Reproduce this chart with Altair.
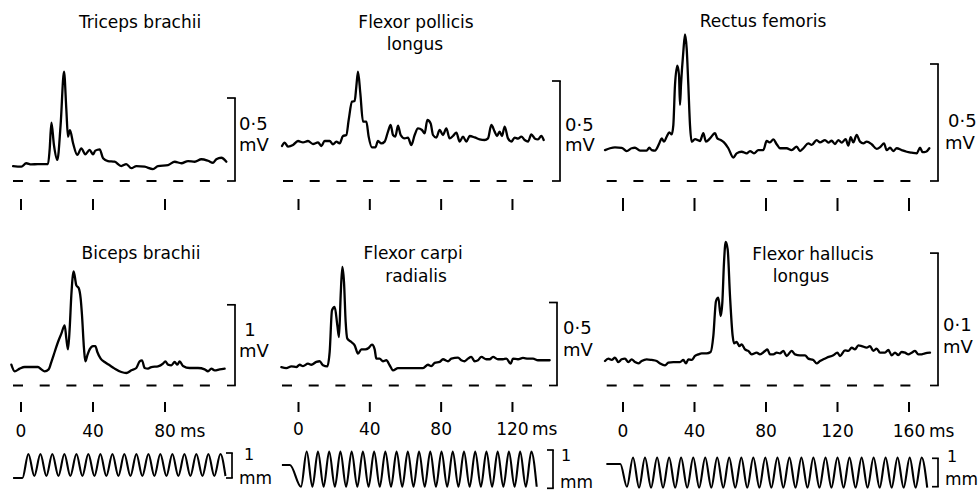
import altair as alt
import pandas as pd

FONT = "DejaVu Sans"

# ---------------- EMG traces: (time ms, amplitude mV) ----------------
triceps = [(-4.4, 0.090), (0.2, 0.086), (2.9, 0.107), (5.7, 0.100), (9.4, 0.102), (15.0, 0.102),
           (15.9, 0.187), (16.9, 0.351), (18.3, 0.217), (20.2, 0.127), (22.0, 0.337), (23.9, 0.658),
           (25.2, 0.428), (26.1, 0.267), (27.2, 0.307), (28.9, 0.229), (31.3, 0.157), (33.5, 0.197),
           (35.7, 0.161), (38.1, 0.187), (40.0, 0.161), (41.3, 0.183), (43.7, 0.191), (45.6, 0.137),
           (48.3, 0.120), (52.0, 0.116), (55.7, 0.090), (58.5, 0.102), (61.3, 0.077), (64.1, 0.090),
           (68.7, 0.086), (73.3, 0.072), (76.1, 0.090), (81.7, 0.096), (85.4, 0.116), (89.1, 0.107),
           (92.8, 0.120), (96.5, 0.116), (100.2, 0.131), (103.9, 0.122), (106.7, 0.110), (108.5, 0.131),
           (111.3, 0.140), (114.1, 0.116)]

fpl = [(-9.25, 0.175), (-7.76, 0.192), (-5.89, 0.172), (-3.08, 0.180), (-0.28, 0.200), (2.52, 0.193),
       (5.33, 0.200), (8.13, 0.185), (10.94, 0.193), (12.80, 0.175), (14.68, 0.200), (17.48, 0.200),
       (19.35, 0.183), (21.22, 0.197), (23.09, 0.188), (24.96, 0.225), (26.83, 0.230), (28.14, 0.305),
       (30.01, 0.397), (31.50, 0.400), (32.43, 0.472), (33.37, 0.547), (34.68, 0.438), (36.17, 0.297),
       (38.04, 0.297), (39.35, 0.222), (41.22, 0.168), (43.09, 0.168), (44.59, 0.200), (46.46, 0.188),
       (48.33, 0.197), (50.20, 0.247), (51.69, 0.280), (53.00, 0.230), (54.31, 0.222), (55.81, 0.277),
       (57.30, 0.230), (59.54, 0.213), (61.41, 0.217), (63.28, 0.180), (65.15, 0.230), (67.02, 0.263),
       (69.27, 0.255), (70.76, 0.238), (72.26, 0.305), (74.13, 0.288), (75.43, 0.230), (77.30, 0.217),
       (79.17, 0.255), (81.04, 0.230), (82.91, 0.263), (84.78, 0.213), (86.65, 0.225), (88.52, 0.242),
       (90.39, 0.197), (92.26, 0.222), (94.13, 0.197), (96.00, 0.225), (98.80, 0.218), (101.61, 0.208),
       (104.41, 0.205), (106.28, 0.213), (108.15, 0.280), (110.02, 0.247), (111.33, 0.225), (112.82, 0.247),
       (114.13, 0.225), (115.63, 0.272), (117.50, 0.213), (119.37, 0.197), (121.24, 0.217), (123.11, 0.212),
       (124.98, 0.222), (126.85, 0.205), (128.72, 0.197), (130.59, 0.233), (132.46, 0.213), (134.33, 0.208),
       (136.20, 0.225), (137.51, 0.205)]

rectus = [(-10.07, 0.132), (-7.27, 0.140), (-4.48, 0.144), (-0.75, 0.142), (2.05, 0.128), (4.85, 0.140),
          (6.71, 0.142), (9.51, 0.130), (13.24, 0.130), (14.73, 0.142), (16.04, 0.132), (17.90, 0.130),
          (20.33, 0.161), (21.63, 0.182), (22.94, 0.168), (24.43, 0.189), (25.92, 0.208), (27.23, 0.199),
          (28.16, 0.239), (29.09, 0.410), (30.40, 0.493), (31.33, 0.453), (31.89, 0.325), (32.45, 0.410),
          (33.75, 0.553), (34.69, 0.627), (35.62, 0.567), (36.55, 0.410), (37.48, 0.239), (38.42, 0.168),
          (40.28, 0.179), (43.08, 0.171), (44.94, 0.204), (46.43, 0.168), (48.67, 0.182), (51.47, 0.204),
          (52.77, 0.182), (54.64, 0.175), (56.50, 0.165), (58.93, 0.140), (61.72, 0.100), (63.59, 0.118),
          (66.39, 0.125), (69.19, 0.118), (71.05, 0.128), (73.29, 0.118), (75.71, 0.132), (78.51, 0.132),
          (80.37, 0.171), (82.24, 0.165), (84.10, 0.178), (85.97, 0.157), (87.83, 0.140), (91.56, 0.140),
          (94.36, 0.132), (97.16, 0.147), (99.02, 0.128), (100.89, 0.140), (103.68, 0.161), (105.55, 0.154),
          (108.35, 0.175), (110.21, 0.165), (113.01, 0.175), (114.87, 0.164), (116.74, 0.172), (118.60, 0.158),
          (120.47, 0.175), (122.33, 0.164), (124.57, 0.179), (126.06, 0.151), (127.37, 0.187), (128.86, 0.165),
          (130.72, 0.197), (132.59, 0.168), (134.45, 0.161), (136.32, 0.168), (139.12, 0.157), (141.91, 0.137),
          (144.15, 0.147), (146.01, 0.161), (147.51, 0.132), (149.37, 0.142), (151.24, 0.128), (153.10, 0.140),
          (155.90, 0.132), (158.70, 0.125), (161.49, 0.121), (164.29, 0.118), (166.15, 0.142), (167.65, 0.123),
          (169.51, 0.125), (171.37, 0.140)]

biceps = [(-5.37, 0.258), (-3.52, 0.176), (-0.74, 0.209), (2.04, 0.229), (5.74, 0.229), (9.44, 0.229),
          (11.30, 0.200), (13.15, 0.176), (15.37, 0.200), (16.85, 0.291), (18.70, 0.415), (20.56, 0.539),
          (22.41, 0.642), (24.26, 0.746), (25.19, 0.580), (26.11, 0.448), (27.04, 0.704), (27.96, 1.117),
          (29.26, 1.415), (30.74, 1.241), (32.04, 1.208), (33.15, 1.076), (33.89, 0.870), (35.00, 0.456),
          (35.74, 0.300), (36.85, 0.374), (38.15, 0.448), (40.00, 0.489), (41.30, 0.489), (42.41, 0.415),
          (44.26, 0.332), (46.48, 0.291), (49.26, 0.250), (52.04, 0.209), (55.74, 0.167), (58.52, 0.155),
          (61.30, 0.188), (64.07, 0.217), (65.93, 0.300), (67.22, 0.312), (68.70, 0.217), (70.56, 0.209),
          (72.41, 0.229), (76.11, 0.238), (78.89, 0.271), (80.19, 0.300), (81.67, 0.258), (83.52, 0.250),
          (85.37, 0.291), (86.85, 0.258), (88.15, 0.300), (90.00, 0.242), (93.70, 0.217), (98.33, 0.217),
          (102.04, 0.200), (103.89, 0.176), (105.74, 0.209), (107.59, 0.188), (110.37, 0.200), (113.15, 0.209)]

fcr = [(-9.63, 0.111), (-6.82, 0.105), (-4.02, 0.115), (-1.22, 0.111), (0.65, 0.125), (2.52, 0.117),
       (5.33, 0.132), (7.20, 0.125), (10.00, 0.142), (11.87, 0.146), (13.74, 0.122), (16.17, 0.115),
       (17.48, 0.202), (18.79, 0.453), (20.28, 0.473), (21.78, 0.362), (22.71, 0.292), (23.65, 0.543),
       (24.58, 0.714), (25.52, 0.623), (26.45, 0.383), (27.39, 0.282), (29.63, 0.262), (31.50, 0.242),
       (33.37, 0.192), (35.24, 0.218), (37.48, 0.218), (39.35, 0.226), (41.22, 0.246), (42.72, 0.218),
       (43.65, 0.162), (45.52, 0.162), (47.39, 0.146), (49.26, 0.152), (51.13, 0.122), (53.00, 0.091),
       (55.80, 0.105), (59.54, 0.105), (63.28, 0.105), (67.02, 0.105), (69.83, 0.105), (72.63, 0.125),
       (74.50, 0.117), (76.37, 0.136), (79.17, 0.142), (81.04, 0.158), (83.85, 0.146), (85.72, 0.162),
       (89.46, 0.168), (91.32, 0.152), (93.20, 0.146), (95.06, 0.162), (96.93, 0.172), (98.80, 0.146),
       (100.67, 0.152), (102.54, 0.172), (105.35, 0.158), (107.22, 0.158), (109.09, 0.172), (111.89, 0.158),
       (114.69, 0.158), (116.56, 0.162), (119.00, 0.132), (120.30, 0.162), (123.11, 0.158), (125.91, 0.166),
       (128.72, 0.162), (131.52, 0.162), (134.32, 0.152), (138.06, 0.152), (140.87, 0.152)]

fhl = [(-10.07, 0.0185), (-8.21, 0.0203), (-6.34, 0.0193), (-4.48, 0.0210), (-2.61, 0.0177), (-0.75, 0.0198),
       (1.12, 0.0203), (2.98, 0.0177), (4.85, 0.0198), (6.71, 0.0177), (8.58, 0.0167), (10.44, 0.0185),
       (13.24, 0.0198), (16.04, 0.0193), (18.83, 0.0185), (20.70, 0.0167), (23.50, 0.0152), (25.36, 0.0172),
       (28.16, 0.0177), (31.89, 0.0177), (33.75, 0.0193), (35.24, 0.0167), (36.55, 0.0198), (38.42, 0.0193),
       (40.28, 0.0223), (42.14, 0.0235), (44.01, 0.0243), (46.81, 0.0243), (49.05, 0.0253), (50.54, 0.0374),
       (52.03, 0.0638), (53.33, 0.0663), (54.64, 0.0525), (55.57, 0.0626), (56.50, 0.0928), (57.44, 0.1084),
       (58.56, 0.1028), (59.86, 0.0676), (61.35, 0.0374), (62.10, 0.0318), (63.59, 0.0329), (65.08, 0.0298),
       (66.39, 0.0311), (68.25, 0.0273), (70.12, 0.0261), (71.98, 0.0235), (74.78, 0.0248), (76.64, 0.0235),
       (79.44, 0.0261), (80.75, 0.0273), (82.24, 0.0235), (84.10, 0.0235), (85.97, 0.0248), (87.83, 0.0243),
       (89.70, 0.0261), (91.56, 0.0223), (94.36, 0.0261), (96.22, 0.0235), (99.02, 0.0228), (101.82, 0.0228),
       (103.68, 0.0203), (106.48, 0.0193), (108.35, 0.0167), (110.21, 0.0185), (112.07, 0.0198), (113.94, 0.0210),
       (117.67, 0.0228), (119.91, 0.0248), (121.40, 0.0223), (124.20, 0.0266), (126.06, 0.0261), (127.93, 0.0286),
       (129.79, 0.0273), (131.65, 0.0303), (133.52, 0.0298), (136.32, 0.0286), (138.18, 0.0298), (140.05, 0.0261),
       (141.91, 0.0278), (143.78, 0.0248), (146.57, 0.0248), (148.44, 0.0268), (150.30, 0.0228), (152.17, 0.0248),
       (154.03, 0.0230), (155.90, 0.0253), (157.76, 0.0248), (159.63, 0.0235), (161.49, 0.0248), (163.36, 0.0261),
       (165.22, 0.0235), (167.09, 0.0235), (168.95, 0.0243), (171.75, 0.0248)]

# ---------------- vibration records (ms, mm) ----------------
vib1_lead = [(-4.4, 0.0), (0.8, 0.0)]
vib1_peaks = [4.1, 10.8, 17.4, 24.1, 30.8, 37.4, 44.1, 50.8, 57.4, 64.1, 70.8, 77.4, 84.1, 90.8, 97.4, 104.1, 110.8]
vib1_troughs = [7.4, 14.1, 20.8, 27.4, 34.1, 40.8, 47.4, 54.1, 60.8, 67.4, 74.1, 80.8, 87.4, 94.1, 100.8, 107.4, 113.6]
vib1_amp = (0.96, 0.08)

vib2_lead = [(-9.3, 0.61), (-4.8, 0.61), (1.4, 0.04)]
vib2_peaks = [4.6, 10.9, 17.2, 23.5, 29.8, 36.1, 42.4, 48.7, 55.0, 61.3, 67.6, 73.9, 80.2, 86.5, 92.8, 99.1,
              105.4, 111.7, 118.0, 124.3, 130.6]
vib2_troughs = [7.8, 14.1, 20.4, 26.7, 33.0, 39.3, 45.6, 51.9, 58.2, 64.5, 70.8, 77.1, 83.4, 89.7, 96.0, 102.3,
                108.6, 114.9, 121.2, 127.5, 133.6]
vib2_amp = (0.96, 0.04)

vib3_lead = [(-9.3, 0.80), (-1.5, 0.80), (2.2, 0.0)]
vib3_peaks = [5.6, 12.3, 19.1, 25.8, 32.5, 39.3, 46.0, 52.7, 59.4, 66.2, 72.9, 79.6, 86.4, 93.1, 99.8, 106.5,
              113.3, 120.0, 126.7, 133.5, 140.2, 146.9, 153.6, 160.4, 167.1]
vib3_troughs = [9.0, 15.7, 22.4, 29.2, 35.9, 42.6, 49.4, 56.1, 62.8, 69.5, 76.3, 83.0, 89.7, 96.5, 103.2, 109.9,
                116.6, 123.4, 130.1, 136.8, 143.6, 150.3, 157.0, 163.7, 170.2]
vib3_amp = (1.03, -0.03)

ticks = [[0, 40, 80], [0, 40, 80, 120], [0, 40, 80, 120, 160]]
tick_text = [["0", "40", "80"], ["0", "40", "80", "120"], ["0", "40", "80", "120", "160"]]

# ---------------- layout (pixels) ----------------
COLS = [(270, 21.0, 1.80), (325, 28.5, 1.783), (385, 28.0, 1.7875)]  # width, x of 0 ms, px per ms
ROW_H = [228, 212, 52]


def text_layer(txt, x, y, size, align="center"):
    return alt.Chart(pd.DataFrame({"a": [0]})).mark_text(
        text=txt, font=FONT, fontSize=size, align=align, baseline="alphabetic", color="black"
    ).encode(x=alt.value(x), y=alt.value(y))


def scales(c, H, zero, ppu):
    W, t0, ppm = COLS[c]
    xs = alt.Scale(domain=[-t0 / ppm, (W - t0) / ppm], nice=False, zero=False)
    ys = alt.Scale(domain=[-(H - zero) / ppu, zero / ppu], nice=False, zero=False)
    return W, xs, ys


def bracket_layers(ys, bx, cal, foot=8, sw=1.7):
    Y = lambda f: alt.Y(f, type="quantitative", scale=ys, axis=None)
    vert = alt.Chart(pd.DataFrame({"v": [0.0], "v2": [cal]})).mark_rule(color="black", strokeWidth=sw).encode(
        x=alt.value(bx), y=Y("v"), y2=alt.Y2("v2"))
    feet = alt.Chart(pd.DataFrame({"v": [0.0, cal]})).mark_rule(color="black", strokeWidth=sw).encode(
        x=alt.value(bx - foot), x2=alt.value(bx + 0.8), y=Y("v"))
    return [vert, feet]


def emg_panel(c, row, zero, ppu, trace, cal, cal_texts, titles, dash, bx, tick_y, label_base=None, ms_x=None):
    H = ROW_H[row]
    W, xs, ys = scales(c, H, zero, ppu)
    X = lambda f: alt.X(f, type="quantitative", scale=xs, axis=None)
    Y = lambda f: alt.Y(f, type="quantitative", scale=ys, axis=None)
    df = pd.DataFrame(trace, columns=["t", "v"])
    layers = [
        alt.Chart(df).mark_line(color="black", strokeWidth=2.3, interpolate="monotone",
                                strokeJoin="round", strokeCap="round").encode(x=X("t"), y=Y("v")),
        alt.Chart(pd.DataFrame({"v": [0.0]})).mark_rule(color="black", strokeWidth=1.8, strokeDash=[10, 16.7]).encode(
            x=alt.value(dash[0]), x2=alt.value(dash[1]), y=Y("v")),
    ]
    layers += bracket_layers(ys, bx, cal)
    layers.append(alt.Chart(pd.DataFrame({"t": ticks[c]})).mark_rule(color="black", strokeWidth=2).encode(
        x=X("t"), y=alt.value(tick_y[0]), y2=alt.value(tick_y[1])))
    if label_base is not None:
        layers.append(alt.Chart(pd.DataFrame({"t": ticks[c], "lab": tick_text[c]})).mark_text(
            font=FONT, fontSize=17, align="center", baseline="alphabetic", color="black").encode(
            x=X("t"), y=alt.value(label_base), text="lab:N"))
        layers.append(text_layer("ms", ms_x, label_base, 17, "left"))
    for (txt, x, y, al) in cal_texts:
        layers.append(text_layer(txt, x, y, 18, al))
    for (txt, x, y) in titles:
        layers.append(text_layer(txt, x, y, 17))
    return alt.layer(*layers).properties(width=W, height=H)


def vib_panel(c, zero, ppu, lead, peaks, troughs, amp, bx, one_pos, mm_pos):
    H = ROW_H[2]
    W, xs, ys = scales(c, H, zero, ppu)
    pts = list(lead)
    for p, q in zip(peaks, troughs):
        pts.append((p, amp[0]))
        pts.append((q, amp[1]))
    df = pd.DataFrame(pts, columns=["t", "v"])
    layers = [alt.Chart(df).mark_line(color="black", strokeWidth=2.1, interpolate="monotone",
                                      strokeJoin="round").encode(
        x=alt.X("t:Q", scale=xs, axis=None), y=alt.Y("v:Q", scale=ys, axis=None))]
    layers += bracket_layers(ys, bx, 1.0, foot=6)
    layers.append(text_layer("1", one_pos[0], one_pos[1], 16))
    layers.append(text_layer("mm", mm_pos[0], mm_pos[1], 17, "left"))
    return alt.layer(*layers).properties(width=W, height=H)


cells = [
    # row 1
    emg_panel(0, 0, 181, 166, triceps, 0.5, [("0·5", 239, 130, "left"), ("mV", 239, 151, "left")],
              [("Triceps brachii", 140, 28)], (13, 213), 235, (199, 210)),
    emg_panel(1, 0, 181, 200, fpl, 0.5, [("0·5", 295, 131, "left"), ("mV", 295, 151, "left")],
              [("Flexor pollicis", 146, 28), ("longus", 145, 50)], (13, 263), 290, (199, 210)),
    emg_panel(2, 0, 181, 234, rectus, 0.5, [("0·5", 353, 127, "left"), ("mV", 350, 149, "left")],
              [("Rectus femoris", 168, 27)], (11.7, 316.7), 343, (198, 211)),
    # row 2
    emg_panel(0, 1, 157.5, 80.7, biceps, 1.0, [("1", 250, 108, "center"), ("mV", 239, 129, "left")],
              [("Biceps brachii", 141, 31)], (13, 213), 235, (174, 184), label_base=208.7, ms_x=180),
    emg_panel(1, 1, 157.5, 166, fcr, 0.5, [("0·5", 293, 106, "left"), ("mV", 293, 128, "left")],
              [("Flexor carpi", 143, 31), ("radialis", 146, 54)], (12, 262), 287, (174, 184),
              label_base=207, ms_x=262),
    emg_panel(2, 1, 157.5, 1324, fhl, 0.1, [("0·1", 348, 103, "left"), ("mV", 348, 125, "left")],
              [("Flexor hallucis", 218, 32), ("longus", 206, 54)], (11.7, 316.7), 343, (174, 184),
              label_base=208.7, ms_x=334),
    # row 3: vibration records
    vib_panel(0, 38, 25, vib1_lead, vib1_peaks, vib1_troughs, vib1_amp, 232, (249, 20), (239, 44)),
    vib_panel(1, 48.3, 38.3, vib2_lead, vib2_peaks, vib2_troughs, vib2_amp, 283, (296, 21), (290, 48)),
    vib_panel(2, 46.7, 28.4, vib3_lead, vib3_peaks, vib3_troughs, vib3_amp, 343, (357, 22), (350, 45)),
]

chart = alt.concat(*cells, columns=3, spacing=0, bounds="flush").properties(
    padding=0, background="white"
).configure_view(stroke=None)

chart.save("out.html", embed_options={"renderer": "svg", "actions": False})
